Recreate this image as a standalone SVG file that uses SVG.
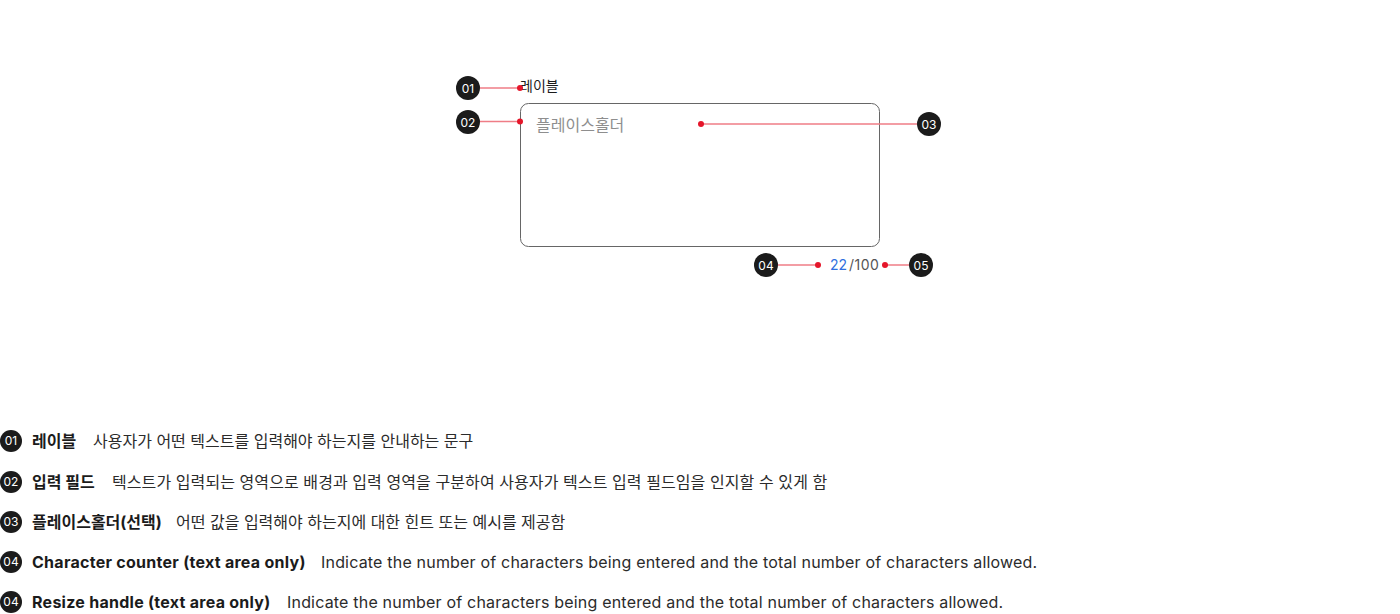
<svg xmlns="http://www.w3.org/2000/svg" width="1400" height="614" viewBox="0 0 1400 614">
<style>
text{font-family:Inter,"Noto Sans CJK KR","Noto Sans",sans-serif}
.bc{fill:#1b1b1b}
.bt{fill:#fff;font-size:12px;text-anchor:middle}
.ln{stroke:#ef7d86;stroke-width:1.5;fill:none}
.dt{fill:#e5162a}
.ttl{font-size:16px;font-weight:700;fill:#1b1b1b}
.dsc{font-size:16px;fill:#2b2b2b}
.en .ttl{letter-spacing:0.27px}
.en .dsc{letter-spacing:0.19px}
</style>
<rect width="1400" height="614" fill="#fff"/>
<g id="textarea">
<text x="520" y="91" font-size="14" fill="#1b1b1b">레이블</text>
<rect x="520.5" y="103.5" width="359" height="143" rx="8" fill="#fff" stroke="#666" stroke-width="1"/>
<text x="536" y="131" font-size="16" fill="#8e8e8e">플레이스홀더</text>
<text x="830" y="270" font-size="14" fill="#2f6fe0">22</text>
<text x="849" y="270" font-size="14" fill="#555" letter-spacing="0.5">/100</text>
</g>
<g id="connectors">
<line class="ln" x1="480" y1="88" x2="520" y2="88"/>
<line class="ln" x1="480" y1="121.5" x2="520" y2="121.5"/>
<line class="ln" x1="701" y1="124" x2="917" y2="124"/>
<line class="ln" x1="778" y1="265" x2="818" y2="265"/>
<line class="ln" x1="885" y1="265" x2="909" y2="265"/>
<circle class="dt" cx="520" cy="88" r="3"/>
<circle class="dt" cx="520" cy="121.5" r="3"/>
<circle class="dt" cx="701" cy="124" r="3"/>
<circle class="dt" cx="818" cy="265" r="3"/>
<circle class="dt" cx="885" cy="265" r="3"/>
</g>
<g id="badge01"><circle class="bc" cx="468" cy="88" r="12"/><text class="bt" x="468" y="92.5">01</text></g>
<g id="badge02"><circle class="bc" cx="468" cy="122" r="12"/><text class="bt" x="468" y="126.5">02</text></g>
<g id="badge03"><circle class="bc" cx="929" cy="124" r="12"/><text class="bt" x="929" y="128.5">03</text></g>
<g id="badge04"><circle class="bc" cx="766" cy="265" r="12"/><text class="bt" x="766" y="269.5">04</text></g>
<g id="badge05"><circle class="bc" cx="921" cy="265" r="12"/><text class="bt" x="921" y="269.5">05</text></g>
<g id="legend01"><circle class="bc" cx="11" cy="441" r="11"/><text class="bt" x="11" y="445" font-size="11">01</text>
<text class="ttl" x="32" y="447">레이블</text><text class="dsc" x="93" y="447">사용자가 어떤 텍스트를 입력해야 하는지를 안내하는 문구</text></g>
<g id="legend02"><circle class="bc" cx="11" cy="482" r="11"/><text class="bt" x="11" y="486" font-size="11">02</text>
<text class="ttl" x="32" y="488">입력 필드</text><text class="dsc" x="112" y="488" letter-spacing="0.08">텍스트가 입력되는 영역으로 배경과 입력 영역을 구분하여 사용자가 텍스트 입력 필드임을 인지할 수 있게 함</text></g>
<g id="legend03"><circle class="bc" cx="11" cy="522" r="11"/><text class="bt" x="11" y="526" font-size="11">03</text>
<text class="ttl" x="32" y="528">플레이스홀더(선택)</text><text class="dsc" x="176" y="528">어떤 값을 입력해야 하는지에 대한 힌트 또는 예시를 제공함</text></g>
<g id="legend04" class="en"><circle class="bc" cx="11" cy="562" r="11"/><text class="bt" x="11" y="566" font-size="11">04</text>
<text class="ttl" x="32" y="568">Character counter (text area only)</text><text class="dsc" x="321" y="568">Indicate the number of characters being entered and the total number of characters allowed.</text></g>
<g id="legend05" class="en"><circle class="bc" cx="11" cy="602" r="11"/><text class="bt" x="11" y="606" font-size="11">04</text>
<text class="ttl" x="32" y="608">Resize handle (text area only)</text><text class="dsc" x="287" y="608">Indicate the number of characters being entered and the total number of characters allowed.</text></g>
</svg>
